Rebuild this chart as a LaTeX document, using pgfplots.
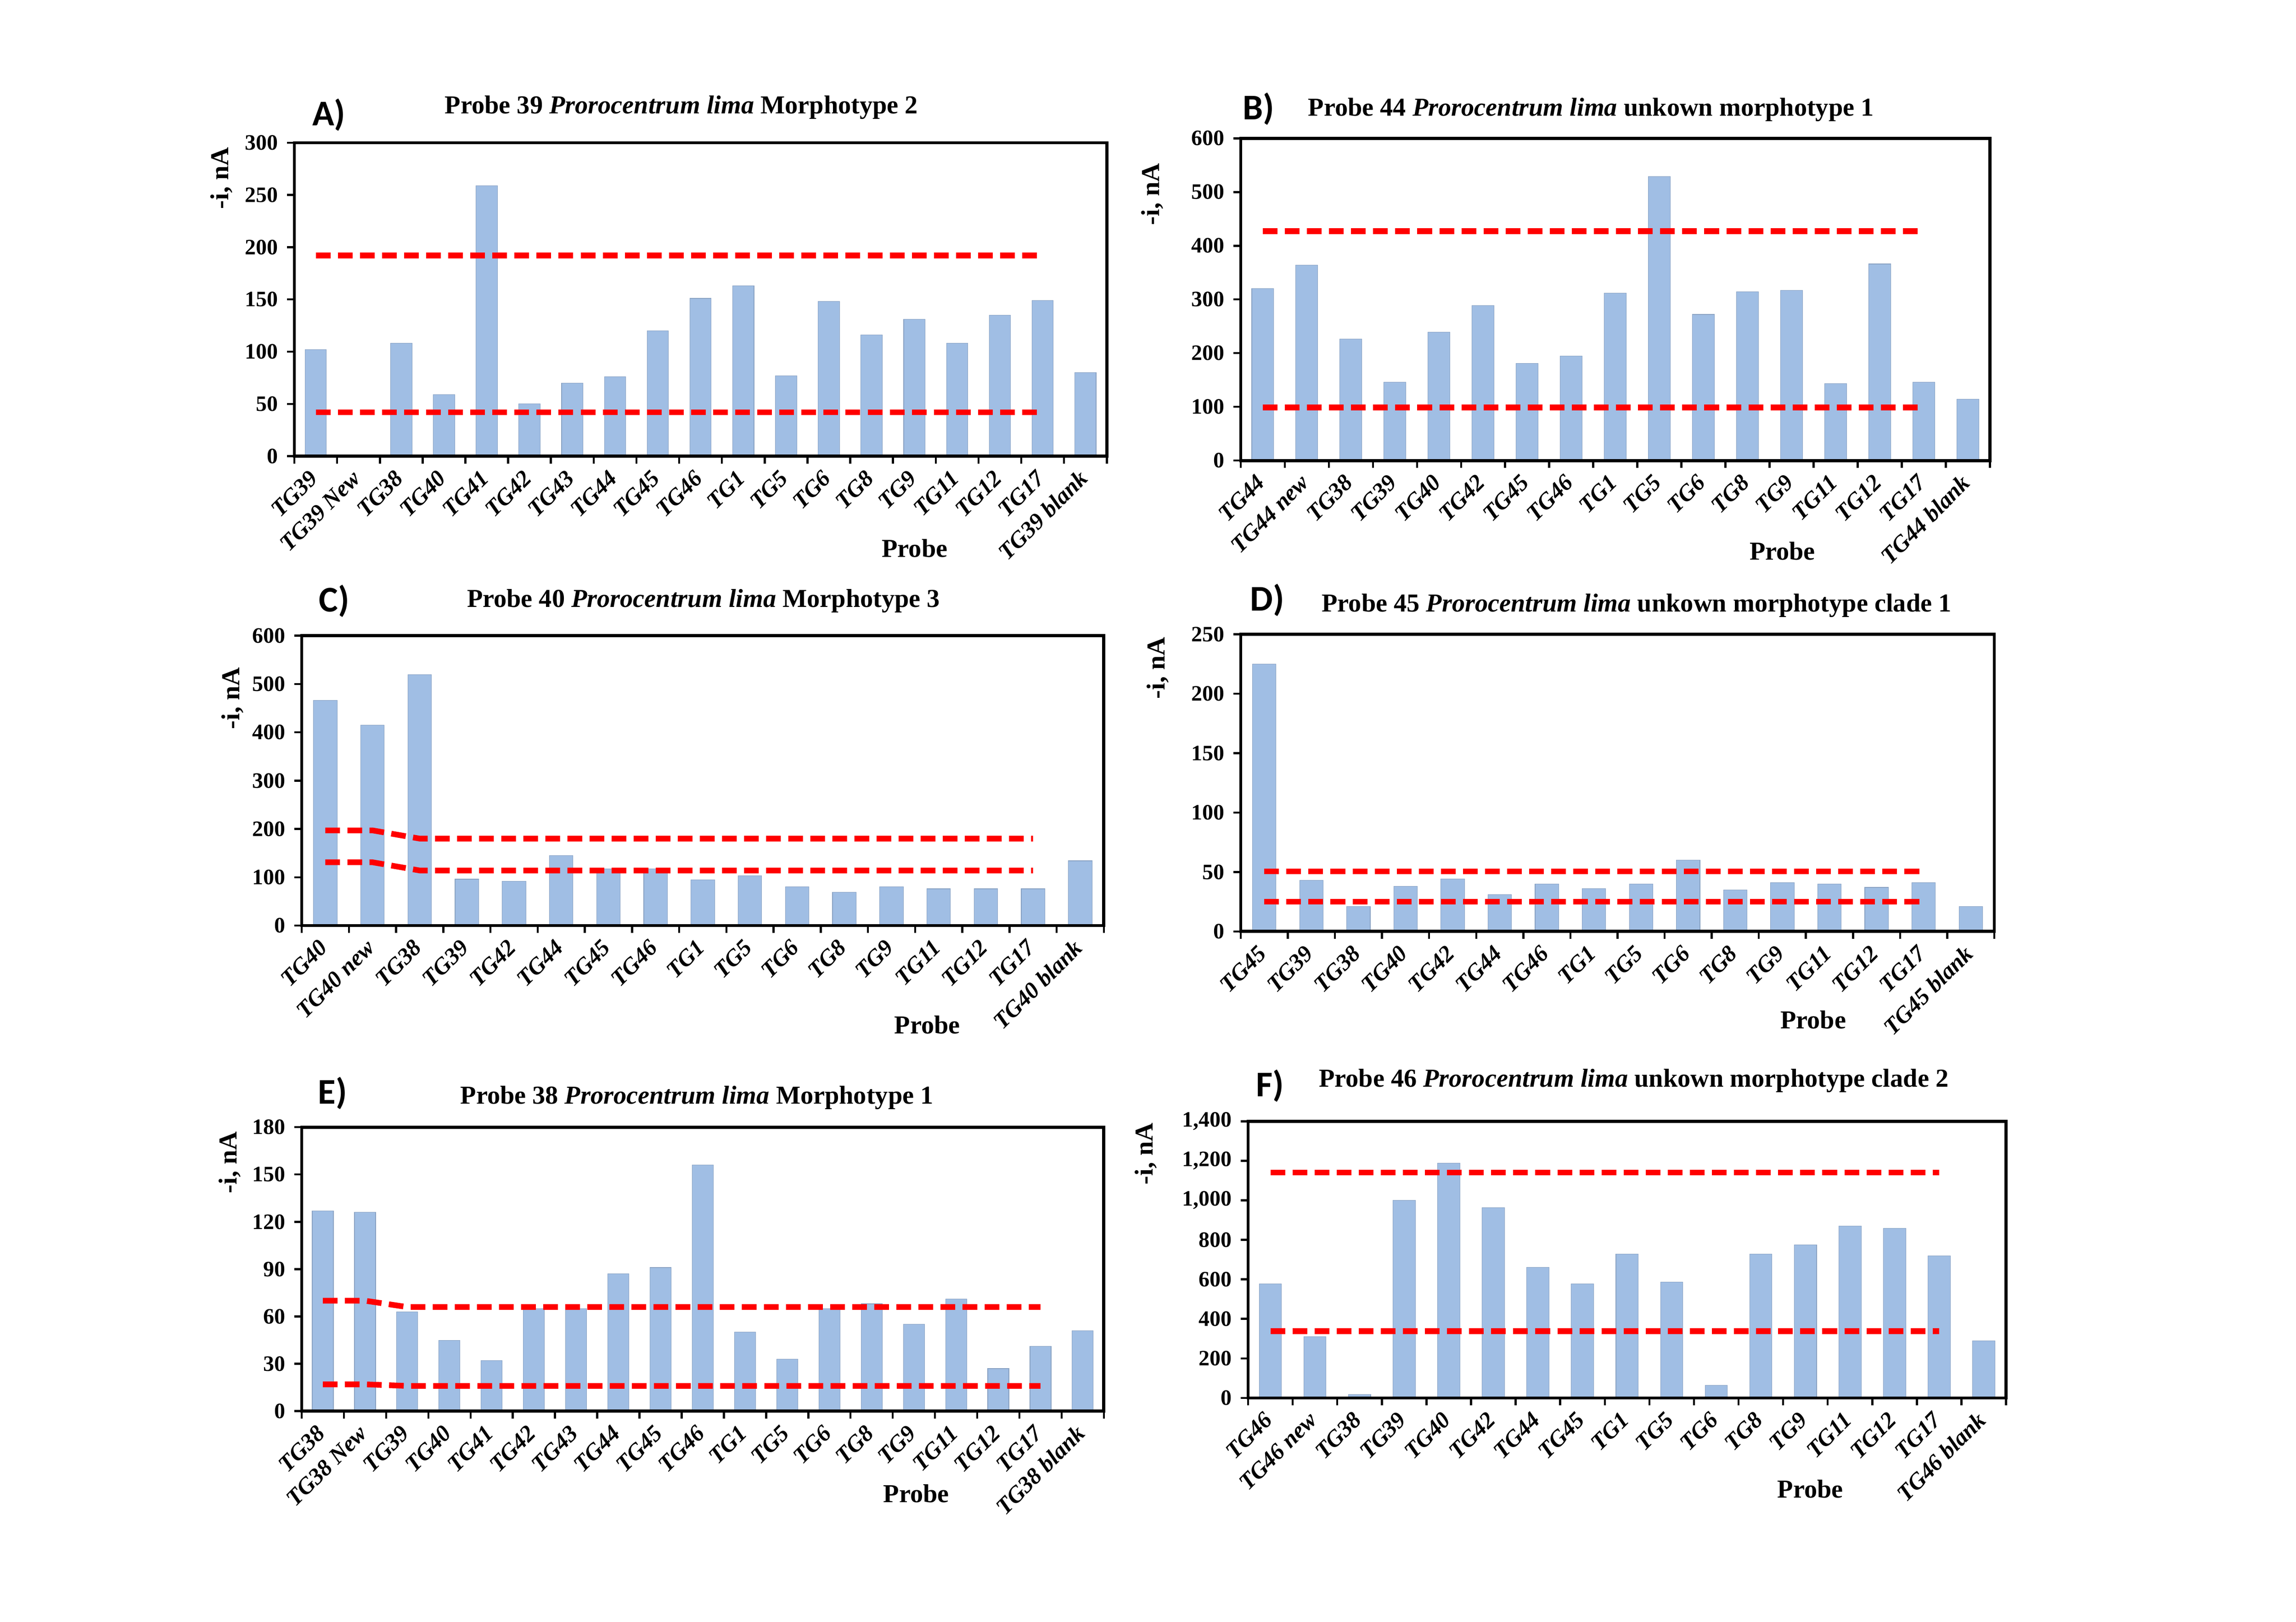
\documentclass[border=0pt]{standalone}
\usepackage{fontspec}
\setmainfont{Liberation Serif}
\newfontfamily\letterfont{Carlito}
\usepackage{pgfplots}
\pgfplotsset{compat=1.18}

\definecolor{barblue}{RGB}{160,190,228}
\definecolor{limred}{RGB}{255,0,0}

\pgfplotsset{
  panel/.style={
    scale only axis,
    anchor=south west,
    bar width=0.5,
    xmin=-0.5, ymin=0,
    xtick=data,
    minor xtick={-0.5,0.5,...,19},
    major x tick style={draw=none},
    minor x tick style={line width=0.8pt, black},
    ytick style={line width=0.8pt, black},
    tick align=outside,
    xtick pos=left, ytick pos=left,
    major tick length=1mm, minor tick length=1mm,
    axis line style={line width=1.2pt},
    axis on top,
    xticklabel shift=1.2mm,
    xticklabel style={rotate=45, anchor=east, inner sep=1pt,
      font=\fontsize{9}{10}\selectfont\bfseries\itshape},
    yticklabel style={font=\fontsize{8.5}{10}\selectfont\bfseries},
    /pgf/number format/assume math mode=true,
  },
  bars/.style={ybar, fill=barblue, draw=barblue!85!black, line width=0.2pt},
  limit/.style={sharp plot, limred, line width=2.2pt, dash pattern=on 2mm off 1mm, mark=none},
}

\newcommand{\ttl}[3]{\node[font=\fontsize{10}{12}\selectfont\bfseries] at (#1,#2) {#3};}
\newcommand{\plabel}[3]{\node[font=\fontsize{14}{16}\selectfont\letterfont\bfseries] at (#1,#2) {#3};}
\newcommand{\ylab}[2]{\node[rotate=90, font=\fontsize{10}{12}\selectfont\bfseries] at (#1,#2) {-i, nA};}
\newcommand{\xlab}[2]{\node[font=\fontsize{10}{12}\selectfont\bfseries] at (#1,#2) {Probe};}

\begin{document}
\begin{tikzpicture}[x=1cm,y=1cm]
\path[use as bounding box] (0,0) rectangle (31.2,22.04);

% ---------------- A ----------------
\begin{axis}[panel, at={(4.00cm,15.84cm)}, width=11.04cm, height=4.26cm,
  xmax=18.5, ymax=300, ytick distance=50,
  xticklabels={TG39, TG39 New, TG38, TG40, TG41, TG42, TG43, TG44, TG45, TG46, TG1, TG5, TG6, TG8, TG9, TG11, TG12, TG17, TG39 blank}]
\addplot[bars] coordinates {(0,102) (1,0) (2,108) (3,59) (4,259) (5,50) (6,70) (7,76) (8,120) (9,151) (10,163) (11,77) (12,148) (13,116) (14,131) (15,108) (16,135) (17,149) (18,80)};
\addplot[limit] coordinates {(0,192) (17,192)};
\addplot[limit] coordinates {(0,42) (17,42)};
\end{axis}
\plabel{4.47}{20.48}{A)}
\ttl{9.26}{20.58}{Probe 39 \textit{Prorocentrum lima} Morphotype 2}
\ylab{3.01}{19.62}
\xlab{12.43}{14.59}

% ---------------- B ----------------
\begin{axis}[panel, at={(16.86cm,15.78cm)}, width=10.18cm, height=4.38cm,
  xmax=16.5, ymax=600, ytick distance=100,
  xticklabels={TG44, TG44 new, TG38, TG39, TG40, TG42, TG45, TG46, TG1, TG5, TG6, TG8, TG9, TG11, TG12, TG17, TG44 blank}]
\addplot[bars] coordinates {(0,320) (1,364) (2,226) (3,146) (4,239) (5,289) (6,181) (7,195) (8,312) (9,529) (10,272) (11,314) (12,317) (13,143) (14,366) (15,146) (16,114)};
\addplot[limit] coordinates {(0,427) (15,427)};
\addplot[limit] coordinates {(0,99) (15,99)};
\end{axis}
\plabel{17.10}{20.56}{B)}
\ttl{21.62}{20.55}{Probe 44 \textit{Prorocentrum lima} unkown morphotype 1}
\ylab{15.66}{19.40}
\xlab{24.22}{14.55}

% ---------------- C ----------------
\begin{axis}[panel, at={(4.10cm,9.46cm)}, width=10.90cm, height=3.94cm,
  xmax=16.5, ymax=600, ytick distance=100,
  xticklabels={TG40, TG40 new, TG38, TG39, TG42, TG44, TG45, TG46, TG1, TG5, TG6, TG8, TG9, TG11, TG12, TG17, TG40 blank}]
\addplot[bars] coordinates {(0,466) (1,415) (2,519) (3,96) (4,92) (5,145) (6,117) (7,117) (8,95) (9,103) (10,80) (11,69) (12,80) (13,76) (14,76) (15,76) (16,134)};
\addplot[limit] coordinates {(0,197) (1,197) (2,180) (15,180)};
\addplot[limit] coordinates {(0,131) (1,131) (2,114) (15,114)};
\end{axis}
\plabel{4.54}{13.87}{C)}
\ttl{9.56}{13.87}{Probe 40 \textit{Prorocentrum lima} Morphotype 3}
\ylab{3.16}{12.55}
\xlab{12.60}{8.11}

% ---------------- D ----------------
\begin{axis}[panel, at={(16.86cm,9.38cm)}, width=10.24cm, height=4.04cm,
  xmax=15.5, ymax=250, ytick distance=50,
  xticklabels={TG45, TG39, TG38, TG40, TG42, TG44, TG46, TG1, TG5, TG6, TG8, TG9, TG11, TG12, TG17, TG45 blank}]
\addplot[bars] coordinates {(0,225) (1,43) (2,21) (3,38) (4,44) (5,31) (6,40) (7,36) (8,40) (9,60) (10,35) (11,41) (12,40) (13,37) (14,41) (15,21)};
\addplot[limit] coordinates {(0,50.5) (14,50.5)};
\addplot[limit] coordinates {(0,25) (14,25)};
\end{axis}
\plabel{17.22}{13.88}{D)}
\ttl{22.24}{13.81}{Probe 45 \textit{Prorocentrum lima} unkown morphotype clade 1}
\ylab{15.73}{12.96}
\xlab{24.64}{8.18}

% ---------------- E ----------------
\begin{axis}[panel, at={(4.10cm,2.86cm)}, width=10.90cm, height=3.86cm,
  xmax=18.5, ymax=180, ytick distance=30,
  xticklabels={TG38, TG38 New, TG39, TG40, TG41, TG42, TG43, TG44, TG45, TG46, TG1, TG5, TG6, TG8, TG9, TG11, TG12, TG17, TG38 blank}]
\addplot[bars] coordinates {(0,127) (1,126) (2,63) (3,45) (4,32) (5,65) (6,65) (7,87) (8,91) (9,156) (10,50) (11,33) (12,65) (13,68) (14,55) (15,71) (16,27) (17,41) (18,51)};
\addplot[limit] coordinates {(0,70) (1,70) (2,66) (17,66)};
\addplot[limit] coordinates {(0,17) (1,17) (2,16) (17,16)};
\end{axis}
\plabel{4.52}{7.18}{E)}
\ttl{9.47}{7.12}{Probe 38 \textit{Prorocentrum lima} Morphotype 1}
\ylab{3.12}{6.24}
\xlab{12.45}{1.74}

% ---------------- F ----------------
\begin{axis}[panel, at={(16.96cm,3.04cm)}, width=10.30cm, height=3.76cm,
  xmax=16.5, ymax=1400, ytick distance=200,
  xticklabels={TG46, TG46 new, TG38, TG39, TG40, TG42, TG44, TG45, TG1, TG5, TG6, TG8, TG9, TG11, TG12, TG17, TG46 blank}]
\addplot[bars] coordinates {(0,578) (1,310) (2,18) (3,1000) (4,1188) (5,962) (6,660) (7,578) (8,729) (9,587) (10,64) (11,729) (12,775) (13,869) (14,859) (15,718) (16,290)};
\addplot[limit] coordinates {(0,1140) (15,1140)};
\addplot[limit] coordinates {(0,338) (15,338)};
\end{axis}
\plabel{17.26}{7.28}{F)}
\ttl{22.20}{7.35}{Probe 46 \textit{Prorocentrum lima} unkown morphotype clade 2}
\ylab{15.57}{6.36}
\xlab{24.60}{1.80}

\end{tikzpicture}
\end{document}
